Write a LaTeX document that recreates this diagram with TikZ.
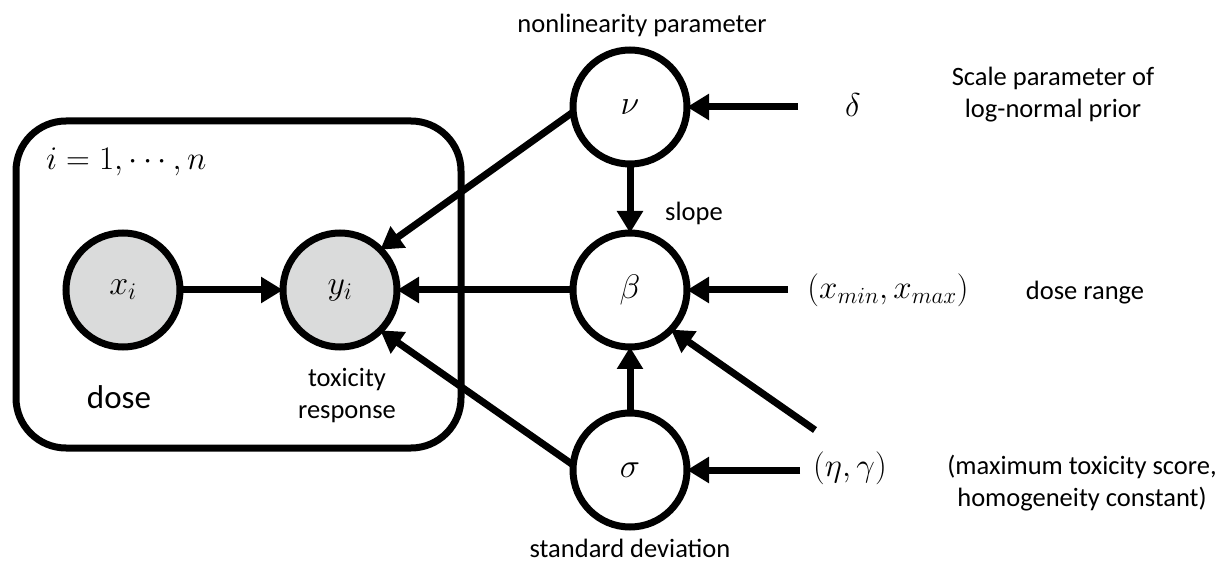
\RequirePackage{fix-cm}
\documentclass[tikz,border=0pt]{standalone}
\usepackage{fontspec}
\setmainfont{Carlito}
\usetikzlibrary{arrows.meta}
\definecolor{obsgray}{RGB}{218,219,219}
\tikzset{
  every node/.style={inner sep=0pt, outer sep=0pt},
  var/.style={circle, draw=black, line width=7pt, minimum size=114pt, inner sep=0pt, font=\fontsize{34}{38}\selectfont},
  obs/.style={var, fill=obsgray},
  lat/.style={var, fill=white},
  arr/.style={line width=7pt, -{Triangle[length=22pt,width=25pt]}},
  lbl/.style={font=\fontsize{26.5}{32}\selectfont, align=center},
  biglbl/.style={font=\fontsize{33}{38}\selectfont, align=center},
  mathlbl/.style={font=\fontsize{33}{36}\selectfont},
  plate/.style={draw=black, line width=7pt, rounded corners=50pt, minimum width=445pt, minimum height=327pt}
}
\begin{document}
\begin{tikzpicture}[x=1pt,y=-1pt]
\useasboundingbox (0,0) rectangle (1219,569);
% plate
\node[plate] (plate) at (238.5,284.5) {};
\node[mathlbl, anchor=west] (idx) at (46,162) {$i = 1, \cdots, n$};
% variables
\node[obs] (x) at (123,290) {$x_i$};
\node[obs] (y) at (340,290) {$y_i$};
\node[lat] (nu) at (630,107) {$\nu$};
\node[lat] (beta) at (630,290) {$\beta$};
\node[lat] (sigma) at (630,470) {$\sigma$};
% hyperparameters
\node[mathlbl] (delta) at (853,105) {$\delta$};
\node[mathlbl] (xr) at (888,290) {$(x_{min},x_{max})$};
\node[mathlbl] (eg) at (850,468) {$(\eta,\gamma)$};
\coordinate (dEnd) at (798,107);
\coordinate (xrEnd) at (788,290);
\coordinate (egEnd) at (800,470);
\coordinate (egDiag) at (815,430);
% connectors
\draw[arr] (x) -- (y);
\draw[arr] (beta) -- (y);
\draw[arr] (nu.185) -- (y.45);
\draw[arr] (sigma.175) -- (y.-45);
\draw[arr] (nu) -- (beta);
\draw[arr] (sigma) -- (beta);
\draw[arr] (dEnd) -- (nu);
\draw[arr] (xrEnd) -- (beta);
\draw[arr] (egEnd) -- (sigma);
\draw[arr] (egDiag) -- (beta.-44);
% labels
\node[biglbl] (dose) at (119,397) {dose};
\node[lbl] (tox) at (347,396) {toxicity\\response};
\node[lbl] (nonlin) at (642,25) {nonlinearity parameter};
\node[lbl] (slope) at (694,213) {slope};
\node[lbl] (sd) at (630,548) {standard deviation};
\node[lbl] (scale) at (1053,95) {Scale parameter of\\log-normal prior};
\node[lbl] (dr) at (1085,293) {dose range};
\node[lbl] (mts) at (1082,483) {(maximum toxicity score,\\homogeneity constant)};
\end{tikzpicture}
\end{document}
